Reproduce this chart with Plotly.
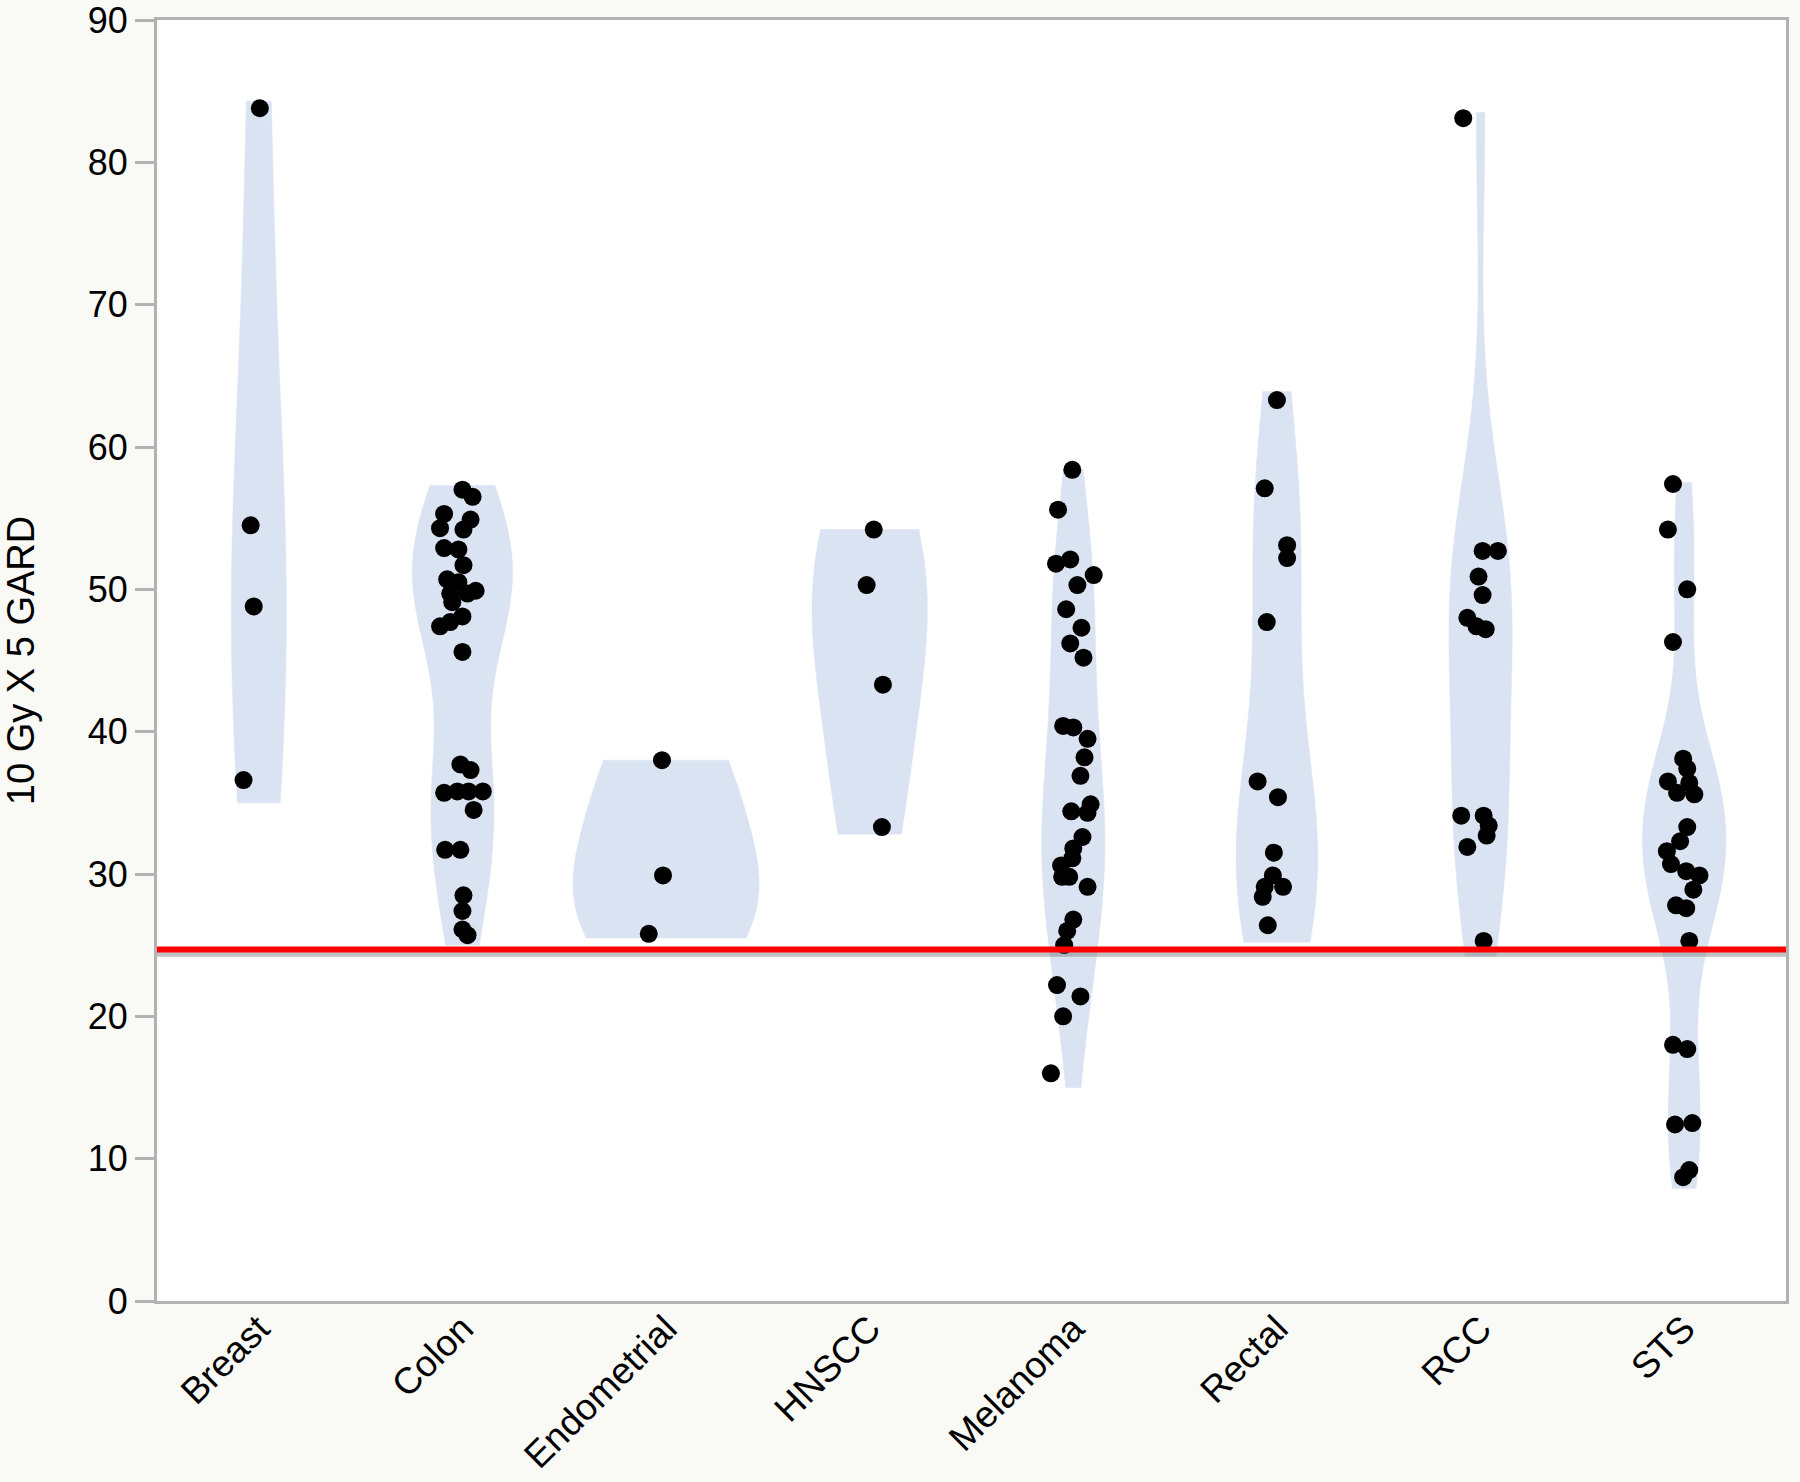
import plotly.graph_objects as go

# ---------------- data ----------------
categories = ["Breast", "Colon", "Endometrial", "HNSCC", "Melanoma", "Rectal", "RCC", "STS"]

breast = [83.8, 54.5, 48.8, 36.6]
colon = [57.0, 56.5, 55.3, 54.9, 54.3, 54.2, 52.9, 52.8, 51.7, 50.7, 50.5, 49.9, 49.7,
         49.7, 49.1, 48.1, 47.7, 47.4, 45.6, 37.7, 37.3, 35.7, 35.8, 35.8, 35.8, 34.5,
         31.7, 31.7, 28.5, 27.4, 26.1, 25.7]
endometrial = [38.0, 29.9, 25.8]
hnscc = [54.2, 50.3, 43.3, 33.3]
melanoma = [58.4, 55.6, 51.8, 52.1, 51.0, 50.3, 48.6, 47.3, 46.2, 45.2, 40.4, 40.3, 39.5,
            38.2, 36.9, 34.4, 34.9, 34.3, 32.6, 31.8, 31.1, 30.6, 29.8, 29.8, 29.1, 26.8,
            26.0, 25.0, 22.2, 21.4, 20.0, 16.0]
rectal = [63.3, 57.1, 53.1, 52.2, 47.7, 36.5, 35.4, 31.5, 29.9, 29.1, 29.1, 28.4, 26.4]
rcc = [83.1, 52.7, 52.7, 50.9, 49.6, 48.0, 47.4, 47.2, 34.1, 34.1, 33.4, 32.7, 31.9, 25.3]
sts = [57.4, 54.2, 50.0, 46.3, 38.1, 37.4, 36.5, 36.4, 35.7, 35.6, 33.3, 32.3, 31.6, 30.7,
       30.2, 29.9, 28.9, 27.8, 27.6, 25.3, 18.0, 17.7, 12.4, 12.5, 9.2, 8.7]

# horizontal jitter of each point (category units)
breast_jit = [0.005, -0.04, -0.025, -0.075]
colon_jit = [0.0, 0.05, -0.09, 0.04, -0.11, 0.005, -0.09, -0.02, 0.005, -0.075, -0.02,
             0.065, 0.025, -0.06, -0.05, 0.0, -0.06, -0.11, 0.0, -0.01, 0.04, -0.09,
             -0.025, 0.03, 0.10, 0.055, -0.085, -0.01, 0.005, 0.0, 0.0, 0.025]
endometrial_jit = [-0.02, -0.015, -0.085]
hnscc_jit = [0.02, -0.015, 0.065, 0.06]
melanoma_jit = [-0.005, -0.075, -0.085, -0.015, 0.10, 0.02, -0.035, 0.04, -0.015, 0.05,
                -0.05, 0.0, 0.07, 0.055, 0.035, -0.01, 0.085, 0.07, 0.045, 0.0, -0.005,
                -0.06, -0.055, -0.02, 0.07, 0.0, -0.03, -0.045, -0.08, 0.035, -0.05, -0.11]
rectal_jit = [0.0, -0.06, 0.05, 0.05, -0.05, -0.095, 0.005, -0.015, -0.02, -0.06, 0.03,
              -0.07, -0.045]
rcc_jit = [-0.085, 0.01, 0.085, -0.01, 0.01, -0.065, -0.02, 0.025, -0.095, 0.015, 0.04,
           0.03, -0.065, 0.015]
sts_jit = [-0.055, -0.08, 0.015, -0.055, -0.005, 0.015, -0.08, 0.025, -0.035, 0.05, 0.015,
           -0.02, -0.085, -0.065, 0.01, 0.075, 0.045, -0.04, 0.01, 0.025, -0.055, 0.015,
           -0.045, 0.04, 0.025, -0.005]

# violin extents (as drawn in the reference)
span_lo = [35.0, 25.0, 25.5, 32.8, 15.0, 25.2, 24.2, 7.9]
span_hi = [84.3, 57.3, 38.0, 54.2, 58.4, 63.9, 83.5, 57.5]

threshold = 24.7

values = [breast, colon, endometrial, hnscc, melanoma, rectal, rcc, sts]
jitters = [breast_jit, colon_jit, endometrial_jit, hnscc_jit, melanoma_jit,
           rectal_jit, rcc_jit, sts_jit]

# ---------------- styling ----------------
violin_widths = [0.27, 0.49, 0.91, 0.565, 0.31, 0.40, 0.31, 0.41]
violin_color = "rgb(218,227,241)"
frame_color = "rgb(178,178,178)"
paper_color = "rgb(249,249,245)"
font_family = "Liberation Sans, Arial, Helvetica, sans-serif"

fig = go.Figure()

for i, (cat, vals) in enumerate(zip(categories, values)):
    fig.add_trace(go.Violin(
        x=[i] * len(vals), y=vals, name=cat,
        spanmode="manual", span=[span_lo[i], span_hi[i]],
        width=violin_widths[i], scalemode="width",
        points=False, box_visible=False, meanline_visible=False,
        fillcolor=violin_color, line=dict(color=violin_color, width=0.5),
        opacity=1, hoverinfo="y",
    ))

px, py = [], []
for i, (vals, jit) in enumerate(zip(values, jitters)):
    px += [i + j for j in jit]
    py += vals
fig.add_trace(go.Scatter(
    x=px, y=py, mode="markers",
    marker=dict(color="black", size=18, line=dict(width=0)),
    hoverinfo="y",
))

# threshold line with soft grey shadow
fig.add_shape(type="line", xref="paper", x0=0, x1=1, yref="y",
              y0=threshold - 0.3, y1=threshold - 0.3,
              line=dict(color="rgba(120,120,120,0.45)", width=6), layer="above")
fig.add_shape(type="line", xref="paper", x0=0, x1=1, yref="y",
              y0=threshold, y1=threshold,
              line=dict(color="rgb(255,0,0)", width=6), layer="above")

fig.update_layout(
    width=1800, height=1482,
    margin=dict(l=157, r=14, t=20, b=181, autoexpand=False),
    paper_bgcolor=paper_color,
    plot_bgcolor="white",
    showlegend=False,
    violinmode="overlay",
    font=dict(family=font_family, color="black"),
)
fig.update_xaxes(
    range=[-0.5, 7.5], tickmode="array", tickvals=list(range(len(categories))),
    ticktext=categories, tickangle=-45, ticks="", showgrid=False, zeroline=False,
    showline=True, linecolor=frame_color, linewidth=3, mirror=True, automargin=False,
    ticklabelstandoff=-12, ticklabeloverflow="allow",
    tickfont=dict(size=37, family=font_family, color="black"),
)
fig.update_yaxes(
    range=[0, 90], tickmode="array", tickvals=list(range(0, 91, 10)),
    ticks="outside", ticklen=19, tickwidth=3, tickcolor=frame_color,
    showgrid=False, zeroline=False, automargin=False, ticklabeloverflow="allow",
    showline=True, linecolor=frame_color, linewidth=3, mirror=True,
    tickfont=dict(size=36, family=font_family, color="black"),
    title=dict(text="10 Gy X 5 GARD", font=dict(size=38, family=font_family, color="black"),
               standoff=44),
)

fig.write_html(
    "out.html",
    config={"displayModeBar": False},
    post_script="document.body.style.margin='0';document.body.style.background='%s';" % paper_color,
)
